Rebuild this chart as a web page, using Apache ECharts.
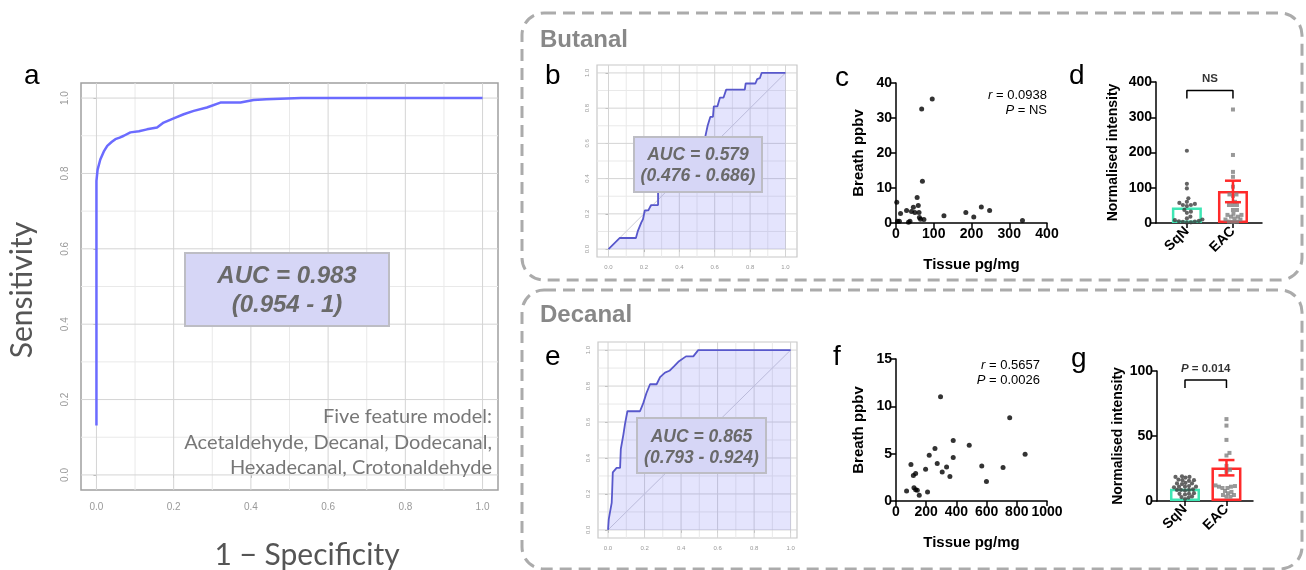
<!DOCTYPE html>
<html><head><meta charset="utf-8">
<script src="https://cdn.jsdelivr.net/npm/echarts@6/dist/echarts.min.js"></script>
<style>html,body{margin:0;padding:0;background:#fff}#c{width:1306px;height:570px}</style>
</head><body><div id="c"></div>
<script>
// ---------------- DATA ----------------
const rocTicks = [0, 0.2, 0.4, 0.6, 0.8, 1.0];
const rocMinor = [0.1, 0.3, 0.5, 0.7, 0.9];

// panel a: five-feature model ROC
const rocA_fpr = [0, 0, 0.003, 0.01, 0.02, 0.028, 0.04, 0.049, 0.06, 0.071, 0.088, 0.11, 0.131, 0.157, 0.174, 0.2, 0.226, 0.252, 0.286, 0.321, 0.373, 0.407, 0.44, 0.53, 0.7, 1.0];
const rocA_tpr = [0.131, 0.78, 0.81, 0.837, 0.86, 0.873, 0.884, 0.891, 0.895, 0.9, 0.909, 0.912, 0.917, 0.922, 0.935, 0.946, 0.957, 0.966, 0.975, 0.988, 0.988, 0.995, 0.997, 1.0, 1.0, 1.0];
const aucA = ['AUC = 0.983', '(0.954 - 1)'];
const captionA = ['Five feature model:', 'Acetaldehyde, Decanal, Dodecanal,', 'Hexadecanal, Crotonaldehyde'];

// panel b: butanal ROC
const rocB_fpr = [0, 0.064, 0.155, 0.165, 0.175, 0.185, 0.195, 0.205, 0.225, 0.24, 0.28, 0.28, 0.31, 0.36, 0.42, 0.47, 0.52, 0.545, 0.56, 0.575, 0.59, 0.595, 0.615, 0.63, 0.65, 0.665, 0.77, 0.775, 0.83, 0.84, 0.855, 0.865, 1.0];
const rocB_tpr = [0, 0.063, 0.063, 0.10, 0.10, 0.15, 0.17, 0.22, 0.22, 0.25, 0.25, 0.33, 0.36, 0.40, 0.44, 0.50, 0.57, 0.63, 0.70, 0.75, 0.75, 0.81, 0.81, 0.86, 0.86, 0.905, 0.905, 0.94, 0.94, 0.965, 0.97, 1.0, 1.0];
const aucB = ['AUC = 0.579', '(0.476 - 0.686)'];

// panel e: decanal ROC
const rocE_fpr = [0, 0.004, 0.011, 0.02, 0.022, 0.026, 0.047, 0.066, 0.07, 0.084, 0.093, 0.106, 0.175, 0.193, 0.21, 0.23, 0.266, 0.285, 0.312, 0.336, 0.361, 0.385, 0.427, 0.467, 0.494, 1.0];
const rocE_tpr = [0, 0.06, 0.10, 0.15, 0.20, 0.32, 0.345, 0.345, 0.45, 0.53, 0.59, 0.66, 0.66, 0.705, 0.76, 0.81, 0.81, 0.85, 0.875, 0.885, 0.91, 0.935, 0.965, 0.965, 1.0, 1.0];
const aucE = ['AUC = 0.865', '(0.793 - 0.924)'];

// panel c: butanal tissue vs breath
const butanalTissue = [2, 4, 9, 12, 28, 33, 37, 41, 46, 50, 56, 59, 61, 62, 65, 68, 70, 74, 96, 127, 185, 206, 226, 248, 335];
const butanalBreath = [5.9, 0.5, 0.5, 2.7, 3.6, 0.2, 0.5, 3.3, 4.5, 3.0, 7.3, 5.0, 3.0, 1.6, 1.1, 32.6, 11.9, 1.0, 35.4, 2.1, 3.0, 1.7, 4.6, 3.6, 0.7];
const statC = ['0.0938', 'NS'];

// panel f: decanal tissue vs breath
const decanalTissue = [70, 99, 115, 119, 130, 130, 141, 154, 196, 209, 220, 258, 273, 295, 306, 335, 357, 379, 379, 485, 568, 599, 709, 753, 855];
const decanalBreath = [1.06, 3.85, 2.7, 1.4, 2.9, 1.2, 1.13, 0.6, 3.35, 0.95, 4.84, 5.54, 3.95, 11.0, 3.07, 3.6, 2.6, 4.6, 6.4, 5.9, 3.7, 2.05, 3.53, 8.8, 4.94];
const statF = ['0.5657', '0.0026'];

// panels d, g: normalised intensity by group
const groups = ['SqN', 'EAC'];
const butanalSqN = [205, 111, 98, 70, 60, 57, 54, 51, 51, 48, 37, 32, 29, 18, 13, 10, 8, 6, 5, 4, 3, 2, 1];
const butanalEAC = [322, 193, 145, 131, 103, 81, 81, 77, 60, 51, 51, 51, 37, 37, 26, 23, 23, 18, 18, 13, 10, 10, 4, 4, 3];
const butanalMean = [44, 91];
const butanalSemLow = [null, 59];
const butanalSemHigh = [null, 120];
const butanalTest = 'NS';

const decanalSqN = [19, 18.5, 18, 18.5, 16.5, 16, 15.5, 16, 14, 13.5, 13, 13.5, 11.5, 11, 11, 10.5, 11, 9, 8.5, 8.5, 8, 8.5, 6, 5.5, 5, 5.5, 3, 3.5, 2.5, 1.5];
const decanalEAC = [63, 58, 47, 37, 35, 27, 24, 22.5, 12, 11.5, 11, 11, 10, 10, 7.7, 7, 6, 4.6, 4.6, 3.3, 3.3];
const decanalMean = [9.5, 25.8];
const decanalSemLow = [null, 19.7];
const decanalSemHigh = [null, 31.5];
const decanalTest = '0.014';

// ---------------- STYLE / LAYOUT ----------------
const ARIAL = 'Liberation Sans';
const grids = [
  {left: 81, top: 83, width: 417, height: 407},   // a
  {left: 597, top: 65, width: 200, height: 192},  // b
  {left: 896, top: 83, width: 151, height: 140},  // c
  {left: 1156, top: 82, width: 106, height: 141}, // d
  {left: 598, top: 342, width: 199, height: 196}, // e
  {left: 896, top: 359, width: 151, height: 142}, // f
  {left: 1157, top: 371, width: 96, height: 130}  // g
].map(g => Object.assign({outerBoundsMode: 'none', containLabel: false}, g));

function rocX(i, min, max, fs, margin) {
  return {type: 'value', gridIndex: i, min, max,
    axisLine: {show: false}, splitLine: {show: false},
    axisTick: {show: true, customValues: rocTicks, length: 3, lineStyle: {color: '#aaa'}},
    axisLabel: {customValues: rocTicks, formatter: v => v.toFixed(1), fontSize: fs, color: '#999', margin, fontFamily: ARIAL}};
}
function rocY(i, min, max, fs, margin) {
  const a = rocX(i, min, max, fs, margin);
  a.axisLabel.rotate = 90;
  return a;
}
function prismAxis(i, min, max, interval, name, gap, nameSize) {
  return {type: 'value', gridIndex: i, min, max, interval,
    name, nameLocation: 'middle', nameGap: gap,
    nameTextStyle: {fontFamily: ARIAL, fontWeight: 'bold', fontSize: nameSize || 15, color: '#000'},
    axisLine: {show: true, onZero: false, lineStyle: {color: '#000', width: 1.5}},
    axisTick: {show: true, length: 5, lineStyle: {color: '#000', width: 1.5}},
    axisLabel: {fontFamily: ARIAL, fontWeight: 'bold', fontSize: 14, color: '#000', margin: 4, formatter: v => String(v)},
    splitLine: {show: false}};
}
function catAxis(i, min, max) {
  return {type: 'value', gridIndex: i, min, max,
    axisLine: {show: true, onZero: false, lineStyle: {color: '#000', width: 1.5}},
    axisTick: {show: true, customValues: [1, 2], length: 5, lineStyle: {color: '#000', width: 1.5}},
    axisLabel: {customValues: [1, 2], formatter: v => groups[Math.round(v) - 1] || '', rotate: 45,
      fontFamily: ARIAL, fontWeight: 'bold', fontSize: 14, color: '#000', margin: 6},
    splitLine: {show: false}};
}

const zip = (xs, ys) => xs.map((x, k) => [x, ys[k]]);

// background grid lines of the ROC panels (drawn across the whole panel, like ggplot)
function gridLines(i) {
  const data = [];
  rocMinor.forEach(v => { data.push([v, 0, 0]); data.push([v, 1, 0]); });
  rocTicks.forEach(v => { data.push([v, 0, 1]); data.push([v, 1, 1]); });
  return {type: 'custom', xAxisIndex: i, yAxisIndex: i, z: 1, silent: true, clip: false, data,
    encode: {x: 0, y: 1},
    renderItem: (params, api) => {
      const cs = params.coordSys;
      const v = api.value(0), dir = api.value(1), maj = api.value(2);
      let shape;
      if (dir === 0) { const p = api.coord([v, 0]); shape = {x1: p[0], y1: cs.y, x2: p[0], y2: cs.y + cs.height}; }
      else { const p = api.coord([0, v]); shape = {x1: cs.x, y1: p[1], x2: cs.x + cs.width, y2: p[1]}; }
      return {type: 'line', shape, style: {stroke: maj ? '#d4d4d4' : '#e9e9e9', lineWidth: 1}};
    }};
}

function swarm(values, center, pxX, pxY, diam) {
  const placed = [];
  const out = new Array(values.length);
  const order = values.map((v, k) => k).sort((p, q) => values[p] - values[q]);
  for (const k of order) {
    const py = values[k] * pxY;
    let off = 0;
    for (let s = 0; s < 400; s++) {
      const cand = s === 0 ? 0 : (s % 2 ? 1 : -1) * Math.ceil(s / 2) * 0.5;
      let ok = true;
      for (const p of placed) {
        const dx = p[0] - cand, dy = p[1] - py;
        if (dx * dx + dy * dy < diam * diam) { ok = false; break; }
      }
      if (ok) { off = cand; break; }
    }
    placed.push([off, py]);
    out[k] = [center + off / pxX, values[k]];
  }
  return out;
}

const groupColors = ['#3ee6b4', '#ff2a2a'];

function barPanel(i, axMin, axMax, yMax, vals, means, lo, hi, bracketY, bracketDrop, testText, italicP) {
  const g = grids[i];
  const pxX = g.width / (axMax - axMin);
  const pxY = g.height / yMax;
  const s = [];
  s.push({type: 'bar', xAxisIndex: i, yAxisIndex: i, barWidth: 30, z: 2,
    data: means.map((m, k) => ({value: [k + 1, m], itemStyle: {color: 'rgba(255,255,255,0)', borderColor: groupColors[k], borderWidth: 2.5}}))});
  vals.forEach((arr, k) => {
    s.push({type: 'scatter', xAxisIndex: i, yAxisIndex: i, z: 3, silent: true,
      symbol: k === 0 ? 'circle' : 'rect', symbolSize: k === 0 ? 4.2 : 4,
      itemStyle: {color: k === 0 ? '#3c3c3c' : '#808080'},
      data: swarm(arr, k + 1, pxX, pxY, 3.7)});
  });
  s.push({type: 'custom', xAxisIndex: i, yAxisIndex: i, z: 4,
    data: means.map((m, k) => [k + 1, lo[k], hi[k], k]).filter(d => d[1] != null),
    encode: {x: 0, y: 1},
    renderItem: (params, api) => {
      const x = api.value(0);
      const pl = api.coord([x, api.value(1)]), ph = api.coord([x, api.value(2)]);
      const st = {stroke: groupColors[api.value(3)], lineWidth: 2.5};
      const h = 8;
      return {type: 'group', children: [
        {type: 'line', shape: {x1: pl[0], y1: pl[1], x2: ph[0], y2: ph[1]}, style: st},
        {type: 'line', shape: {x1: ph[0] - h, y1: ph[1], x2: ph[0] + h, y2: ph[1]}, style: st},
        {type: 'line', shape: {x1: pl[0] - h, y1: pl[1], x2: pl[0] + h, y2: pl[1]}, style: st}]};
    }});
  s.push({type: 'line', xAxisIndex: i, yAxisIndex: i, z: 4, symbol: 'none', silent: true,
    lineStyle: {color: '#000', width: 1.5},
    data: [[1, bracketY - bracketDrop], [1, bracketY], [2, bracketY], [2, bracketY - bracketDrop]]});
  s.push({type: 'scatter', xAxisIndex: i, yAxisIndex: i, z: 4, symbolSize: 1, silent: true,
    itemStyle: {color: 'rgba(0,0,0,0)'},
    data: [[1.5, bracketY]],
    label: {show: true, position: 'top', distance: 5, fontFamily: ARIAL, fontWeight: 'bold', fontSize: 11.5, color: '#000',
      formatter: italicP ? '{i|P} = ' + testText : testText,
      rich: {i: {fontStyle: 'italic', fontWeight: 'bold', fontFamily: ARIAL, fontSize: 11.5, color: '#000'}}}});
  return s;
}

function rocSeries(i, fpr, tpr, filled, color, width) {
  const s = [gridLines(i)];
  if (filled) {
    s.push({type: 'line', xAxisIndex: i, yAxisIndex: i, z: 2, symbol: 'none', silent: true,
      lineStyle: {color: '#cdcdd6', width: 1}, data: [[0, 0], [1, 1]]});
  }
  s.push({type: 'line', xAxisIndex: i, yAxisIndex: i, z: 3, symbol: 'none', showSymbol: false,
    lineStyle: {color, width}, areaStyle: filled ? {color: 'rgba(112,112,245,0.27)', origin: 0} : undefined,
    data: zip(fpr, tpr)});
  return s;
}

const Z = 100;
function aucBox(x, y, w, h, lines, fs, l1, l2) {
  const f = 'italic bold ' + fs + 'px "Liberation Sans"';
  const ts = (t) => ({text: t, fill: '#6a6a6a', font: f, textAlign: 'center', textVerticalAlign: 'middle', align: 'center', verticalAlign: 'middle'});
  return [
    {type: 'rect', z: Z, silent: true, shape: {x, y, width: w, height: h}, style: {fill: '#d6d6f6', stroke: '#bdbdc4', lineWidth: 2}},
    {type: 'text', z: Z + 1, silent: true, x: x + w / 2, y: l1, style: ts(lines[0])},
    {type: 'text', z: Z + 1, silent: true, x: x + w / 2, y: l2, style: ts(lines[1])}];
}
function txt(x, y, text, font, fill, align, rich) {
  const st = {text, font, fill, textAlign: align || 'left', align: align || 'left', textVerticalAlign: 'middle', verticalAlign: 'middle'};
  if (rich) st.rich = rich;
  return {type: 'text', x, y, z: Z, silent: true, style: st};
}
function rtxt(x, y, text, rot, font, fill) {
  return {type: 'text', x, y, rotation: rot, z: Z, silent: true, style: {text, font, fill, textAlign: 'center', align: 'center', textVerticalAlign: 'middle', verticalAlign: 'middle'}};
}

const italicRich = {i: {fontStyle: 'italic', fontFamily: ARIAL, fontSize: 13, color: '#000'}};

const option = {
  animation: false,
  backgroundColor: '#ffffff',
  grid: grids.map((g, k) => (k === 0 || k === 1 || k === 4)
    ? Object.assign({show: true, backgroundColor: '#fff', borderColor: k === 0 ? '#a0a0a0' : '#c8c8c8', borderWidth: k === 0 ? 1.5 : 1.2}, g)
    : g),
  xAxis: [
    rocX(0, -0.04, 1.04, 10, 12),
    rocX(1, -0.065, 1.065, 6, 7),
    prismAxis(2, 0, 400, 100, 'Tissue pg/mg', 34),
    catAxis(3, 0.33, 2.63),
    rocX(4, -0.055, 1.035, 6, 7),
    prismAxis(5, 0, 1000, 200, 'Tissue pg/mg', 34),
    catAxis(6, 0.325, 2.64)
  ],
  yAxis: [
    rocY(0, -0.04, 1.04, 10, 11),
    rocY(1, -0.045, 1.045, 6, 7),
    prismAxis(2, 0, 40, 10, 'Breath ppbv', 30),
    prismAxis(3, 0, 400, 100, 'Normalised intensity', 36, 14),
    rocY(4, -0.045, 1.045, 6, 7),
    prismAxis(5, 0, 15, 5, 'Breath ppbv', 30),
    prismAxis(6, 0, 100, 50, 'Normalised intensity', 32, 14)
  ],
  series: [].concat(
    rocSeries(0, rocA_fpr, rocA_tpr, false, '#6b6bff', 2.5),
    rocSeries(1, rocB_fpr, rocB_tpr, true, '#5858cc', 1.8),
    [{type: 'scatter', xAxisIndex: 2, yAxisIndex: 2, symbolSize: 5, itemStyle: {color: '#000'}, data: zip(butanalTissue, butanalBreath)}],
    barPanel(3, 0.33, 2.63, 400, [butanalSqN, butanalEAC], butanalMean, butanalSemLow, butanalSemHigh, 376, 23, butanalTest, false),
    rocSeries(4, rocE_fpr, rocE_tpr, true, '#5858cc', 1.8),
    [{type: 'scatter', xAxisIndex: 5, yAxisIndex: 5, symbolSize: 5, itemStyle: {color: '#000'}, data: zip(decanalTissue, decanalBreath)}],
    barPanel(6, 0.325, 2.64, 100, [decanalSqN, decanalEAC], decanalMean, decanalSemLow, decanalSemHigh, 93, 6, decanalTest, true)
  ),
  graphic: {elements: [].concat([
    {type: 'rect', z: 0, silent: true, shape: {x: 522, y: 13, width: 780, height: 267, r: 22}, style: {fill: 'transparent', stroke: '#ababab', lineWidth: 3, lineDash: [12, 7]}},
    {type: 'rect', z: 0, silent: true, shape: {x: 522, y: 290, width: 780, height: 279, r: 22}, style: {fill: 'transparent', stroke: '#ababab', lineWidth: 3, lineDash: [12, 7]}},
    txt(540, 40, 'Butanal', 'bold 24px "Liberation Sans"', '#888'),
    txt(540, 315, 'Decanal', 'bold 24px "Liberation Sans"', '#888'),
    txt(24, 76, 'a', '28px "Liberation Sans"', '#000'),
    txt(545, 76, 'b', '28px "Liberation Sans"', '#000'),
    txt(835, 78, 'c', '28px "Liberation Sans"', '#000'),
    txt(1069, 76, 'd', '28px "Liberation Sans"', '#000'),
    txt(545, 357, 'e', '28px "Liberation Sans"', '#000'),
    txt(833, 357, 'f', '28px "Liberation Sans"', '#000'),
    txt(1071, 359, 'g', '28px "Liberation Sans"', '#000'),
    rtxt(22, 290, 'Sensitivity', Math.PI / 2, '30px Lato', '#555'),
    txt(307, 555, '1 \u2212 Specificity', '30px Lato', '#555', 'center'),
    txt(492, 417, captionA[0], '20px Lato', '#777', 'right'),
    txt(492, 443, captionA[1], '20px Lato', '#777', 'right'),
    txt(492, 468, captionA[2], '20px Lato', '#777', 'right'),
    txt(1047, 95, '{i|r} = ' + statC[0], '13px "Liberation Sans"', '#000', 'right', italicRich),
    txt(1047, 110, '{i|P} = ' + statC[1], '13px "Liberation Sans"', '#000', 'right', italicRich),
    txt(1040, 365, '{i|r} = ' + statF[0], '13px "Liberation Sans"', '#000', 'right', italicRich),
    txt(1040, 380, '{i|P} = ' + statF[1], '13px "Liberation Sans"', '#000', 'right', italicRich)
  ],
    aucBox(185, 253, 204, 73, aucA, 24, 276, 305),
    aucBox(634, 137, 128, 55, aucB, 17.5, 155, 176),
    aucBox(637, 418, 129, 55, aucE, 17.5, 437, 458))}
};

const chart = echarts.init(document.getElementById('c'), null, {renderer: 'canvas', width: 1306, height: 570});
chart.setOption(option);
</script>
</body></html>
